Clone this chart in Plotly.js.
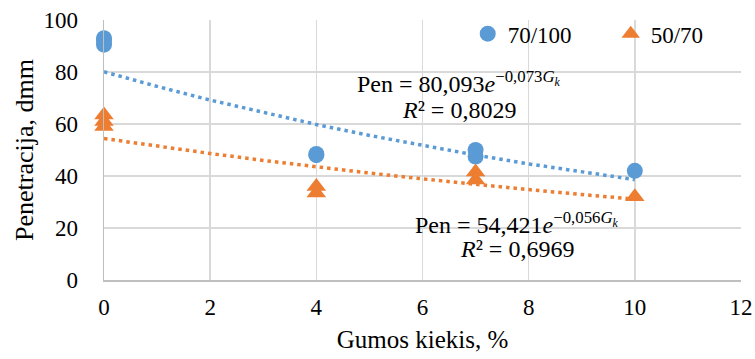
<!DOCTYPE html>
<html><head><meta charset="utf-8">
<script src="https://cdn.plot.ly/plotly-3.0.1.min.js"></script>
<style>body{margin:0;background:#fff}#c{width:755px;height:359px}
#c svg text{font-family:'Liberation Serif','Times New Roman',serif !important}
</style>
</head><body><div id="c"></div>
<script>
var x70 = [0, 0, 0, 4, 4, 7, 7, 10];
var y70 = [93, 92, 90.5, 48, 48.5, 50, 47.5, 42];
var x50 = [0, 0, 0, 4, 4, 7, 7, 10];
var y50 = [63.5, 61, 59, 36, 33.5, 41.5, 38.5, 32];
var names = ['70/100', '50/70'];
var fit70 = {a: 80.093, b: -0.073};
var fit50 = {a: 54.421, b: -0.056};
var fitX = [0, 1, 2, 3, 4, 5, 6, 7, 8, 9, 10];
var xTicks = [0, 2, 4, 6, 8, 10, 12];
var yTicks = [0, 20, 40, 60, 80, 100];

var blue = '#5B9BD5', orange = '#ED7D31';
function curve(f){ return fitX.map(function(x){ return f.a*Math.exp(f.b*x); }); }
var font = 'Liberation Serif';
var traces = [
  {x: fitX, y: curve(fit70), mode: 'lines', line: {color: blue, width: 3.5, dash: '3.5px,4px'}, showlegend: false, hoverinfo: 'skip'},
  {x: fitX, y: curve(fit50), mode: 'lines', line: {color: orange, width: 3.5, dash: '3.5px,4px'}, showlegend: false, hoverinfo: 'skip'},
  {x: x70, y: y70, name: names[0], mode: 'markers', cliponaxis: false, marker: {color: blue, size: 16, symbol: 'circle'}},
  {x: x50, y: y50, name: names[1], mode: 'markers', cliponaxis: false, marker: {color: orange, size: 17, symbol: 'triangle-up'}}
];

var layout = {
  width: 755, height: 359,
  margin: {l: 104, r: 14, t: 20, b: 79, autoexpand: false},
  paper_bgcolor: '#fff', plot_bgcolor: '#fff',
  font: {family: font, size: 23, color: '#000'},
  xaxis: {range: [0, 12], tickvals: xTicks, showgrid: true, gridcolor: '#D9D9D9', gridwidth: 1.5,
    showline: true, linecolor: '#BFBFBF', linewidth: 1.5, zeroline: false, ticks: '',
    ticklabelstandoff: 6, tickfont: {family: font, size: 23}, automargin: false,
    title: {text: 'Gumos kiekis, %', font: {family: font, size: 25}, standoff: 11}},
  yaxis: {range: [0, 100], tickvals: yTicks, showgrid: true, gridcolor: '#D9D9D9', gridwidth: 1.5,
    showline: true, linecolor: '#BFBFBF', linewidth: 1.5, zeroline: false, ticks: '',
    ticklabelstandoff: 20, tickfont: {family: font, size: 23}, automargin: false,
    title: {text: 'Penetracija, dmm', font: {family: font, size: 26}, standoff: 2}},
  legend: {orientation: 'h', x: 0.571, y: 1.03, xanchor: 'left', yanchor: 'top',
    bgcolor: 'rgba(0,0,0,0)', font: {family: font, size: 23}, entrywidth: 98, entrywidthmode: 'pixels'},
  annotations: [
    {x: 6.69, y: 76, xref: 'x', yref: 'y', showarrow: false, font: {family: font, size: 24},
     text: 'Pen = 80,093<i>e</i><sup>−0,073<i>G<sub>k</sub></i></sup>'},
    {x: 6.69, y: 65.5, xref: 'x', yref: 'y', showarrow: false, font: {family: font, size: 24},
     text: '<i>R</i>² = 0,8029'},
    {x: 7.78, y: 22, xref: 'x', yref: 'y', showarrow: false, font: {family: font, size: 24},
     text: 'Pen = 54,421<i>e</i><sup>−0,056<i>G<sub>k</sub></i></sup>'},
    {x: 7.78, y: 12, xref: 'x', yref: 'y', showarrow: false, font: {family: font, size: 24},
     text: '<i>R</i>² = 0,6969'}
  ]
};
Plotly.newPlot('c', traces, layout, {displayModeBar: false, staticPlot: true});
</script></body></html>
